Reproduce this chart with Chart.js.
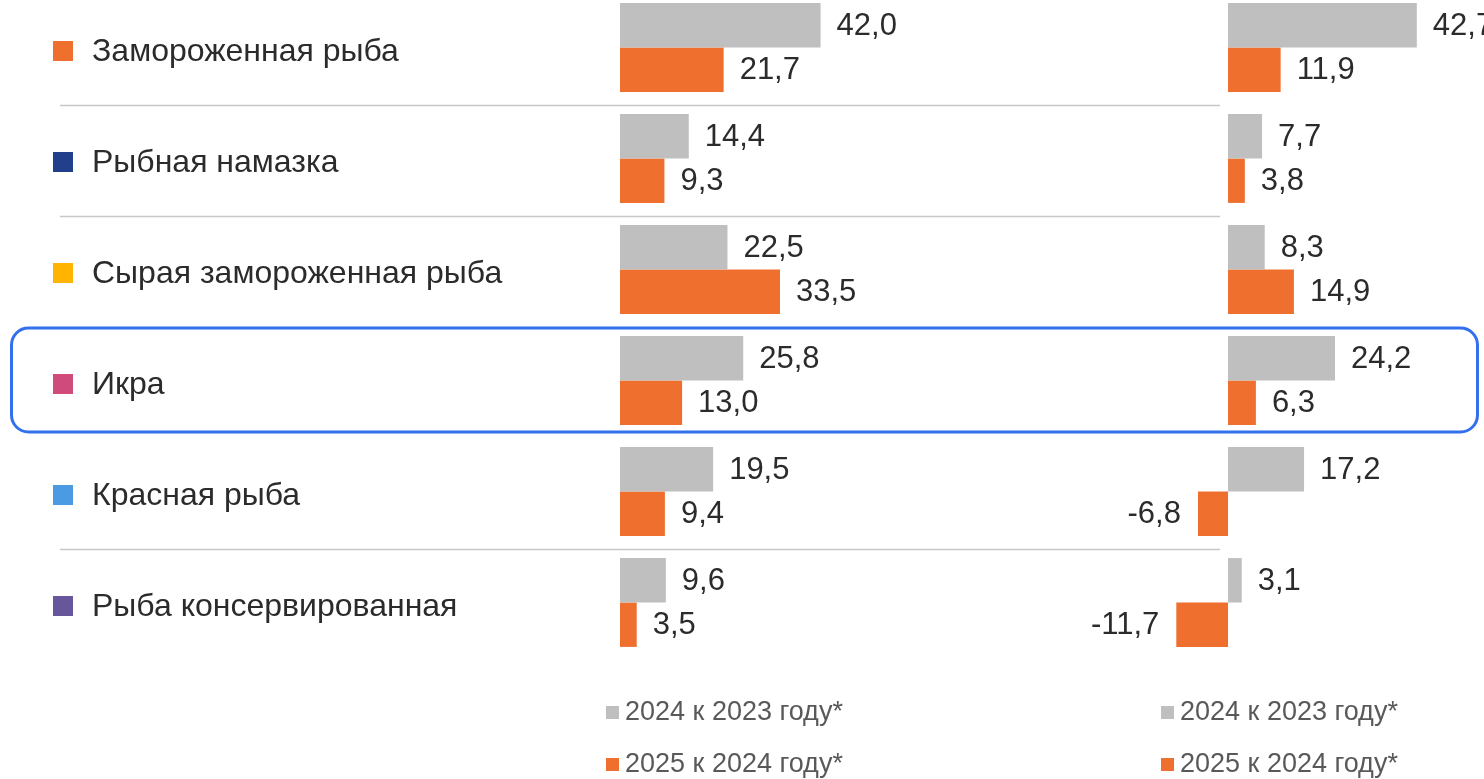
<!DOCTYPE html>
<html>
<head>
<meta charset="utf-8">
<script src="https://cdn.jsdelivr.net/npm/chart.js@4/dist/chart.umd.min.js"></script>
<style>
    body { margin: 0; background: #fff; }
    #wrap { position: relative; width: 1484px; height: 779px; overflow: hidden; }
    #wrap canvas { position: absolute; left: 0; top: -28px; }
</style>
</head>
<body>
<div id="wrap">
    <canvas id="leftChart" width="1484" height="807"></canvas>
    <canvas id="rightChart" width="1484" height="807"></canvas>
</div>
<script>
// Data
const categories = ['Замороженная рыба', 'Рыбная намазка', 'Сырая замороженная рыба', 'Икра', 'Красная рыба', 'Рыба консервированная'];
const markerColors = ['#EF6F2E', '#213F8B', '#FFB400', '#D04A7B', '#4A9BE2', '#67569B'];
const seriesLabels = ['2024 к 2023 году*', '2025 к 2024 году*'];
const left2024 = [42.0, 14.4, 22.5, 25.8, 19.5, 9.6];
const left2025 = [21.7, 9.3, 33.5, 13.0, 9.4, 3.5];
const right2024 = [42.7, 7.7, 8.3, 24.2, 17.2, 3.1];
const right2025 = [11.9, 3.8, 14.9, 6.3, -6.8, -11.7];
const highlighted = 'Икра';

const GRAY = '#BFBFBF';
const ORANGE = '#EF6F2E';
const TEXT = '#2B2B2B';
const SHIFT = 28; // canvas is moved up by this much

Chart.defaults.font.family = "'Liberation Sans', Arial, sans-serif";
Chart.defaults.color = TEXT;

const fmt = v => v.toFixed(1).replace('.', ',');

// Value labels next to each bar
const valueLabels = {
    id: 'valueLabels',
    afterDatasetsDraw(chart) {
        const ctx = chart.ctx;
        ctx.save();
        ctx.font = "31px 'Liberation Sans', Arial, sans-serif";
        ctx.fillStyle = TEXT;
        ctx.textBaseline = 'middle';
        chart.data.datasets.forEach((ds, i) => {
            chart.getDatasetMeta(i).data.forEach((bar, j) => {
                const v = ds.data[j];
                if (v >= 0) {
                    ctx.textAlign = 'left';
                    ctx.fillText(fmt(v), bar.x + 16, bar.y + 1);
                } else {
                    ctx.textAlign = 'right';
                    ctx.fillText(fmt(v), bar.x - 17, bar.y + 1);
                }
            });
        });
        ctx.restore();
    }
};

// Legend drawn as a vertical list under each panel
function makeLegend(x) {
    return {
        id: 'stackLegend',
        afterDraw(chart) {
            const ctx = chart.ctx;
            ctx.save();
            ctx.font = "27px 'Liberation Sans', Arial, sans-serif";
            ctx.textBaseline = 'middle';
            ctx.textAlign = 'left';
            chart.data.datasets.forEach((ds, i) => {
                const y = 712 + SHIFT + i * 52;
                ctx.fillStyle = ds.backgroundColor;
                ctx.fillRect(x, y - 6, 13, 13);
                ctx.fillStyle = '#595959';
                ctx.fillText(ds.label, x + 19, y + 1);
            });
            ctx.restore();
        }
    };
}

// Row markers, separators and the highlight frame
const rowDecor = {
    id: 'rowDecor',
    beforeDatasetsDraw(chart) {
        const ctx = chart.ctx;
        const y = chart.scales.y;
        const step = y.getPixelForValue(1) - y.getPixelForValue(0);
        const hi = categories.indexOf(highlighted);
        ctx.save();
        // separators
        ctx.strokeStyle = '#C8C8C8';
        ctx.lineWidth = 1.5;
        for (let i = 0; i < categories.length - 1; i++) {
            if (i === hi || i + 1 === hi) continue;
            const ly = Math.round(y.getPixelForValue(i) + step / 2 + 2) + 0.5;
            ctx.beginPath();
            ctx.moveTo(60, ly);
            ctx.lineTo(1220, ly);
            ctx.stroke();
        }
        // markers
        categories.forEach((c, i) => {
            const cy = y.getPixelForValue(i) + 3.5;
            ctx.fillStyle = markerColors[i];
            ctx.fillRect(53, cy - 10, 20, 20);
        });
        // highlight frame
        const cy = y.getPixelForValue(hi);
        ctx.strokeStyle = '#3370EE';
        ctx.lineWidth = 3;
        ctx.beginPath();
        ctx.roundRect(11.5, cy - 52.5, 1466, 104, 17);
        ctx.stroke();
        ctx.restore();
    }
};

function baseOptions(xMin, xMax, padLeft, padRight, showLabels) {
    return {
        indexAxis: 'y',
        responsive: false,
        animation: false,
        devicePixelRatio: 1,
        layout: { padding: { left: padLeft, right: padRight, top: 20, bottom: 121 } },
        plugins: { legend: { display: false }, tooltip: { enabled: false } },
        scales: {
            x: { display: false, min: xMin, max: xMax },
            y: {
                display: showLabels,
                grid: { display: false },
                border: { display: false },
                ticks: {
                    color: TEXT,
                    font: { size: 32 },
                    crossAlign: 'far',
                    padding: 0,
                    labelOffset: 5
                },
                afterFit(scale) { if (showLabels) scale.width = 528; }
            }
        }
    };
}

function datasets(a, b) {
    return [
        { label: seriesLabels[0], data: a, backgroundColor: GRAY, categoryPercentage: 0.8, barPercentage: 1.0 },
        { label: seriesLabels[1], data: b, backgroundColor: ORANGE, categoryPercentage: 0.8, barPercentage: 1.0 }
    ];
}

new Chart(document.getElementById('leftChart'), {
    type: 'bar',
    data: { labels: categories, datasets: datasets(left2024, left2025) },
    options: baseOptions(0, 100.5, 92, 384, true),
    plugins: [rowDecor, valueLabels, makeLegend(606)]
});

new Chart(document.getElementById('rightChart'), {
    type: 'bar',
    data: { labels: categories, datasets: datasets(right2024, right2025) },
    options: baseOptions(-28.96, 57.9, 1100, 0, false),
    plugins: [valueLabels, makeLegend(1161)]
});
</script>
</body>
</html>
